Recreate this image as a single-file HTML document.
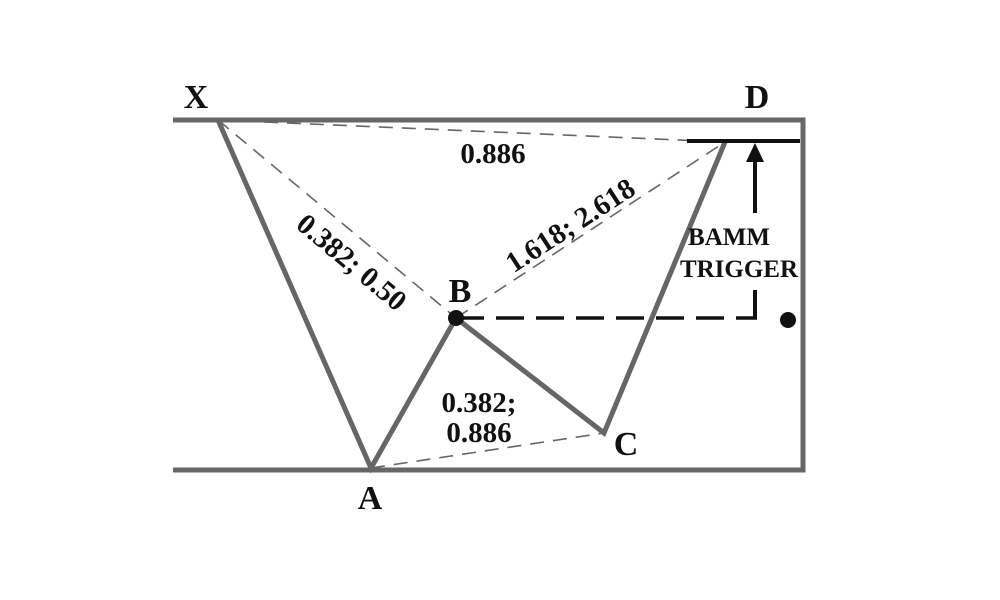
<!DOCTYPE html>
<html><head><meta charset="utf-8"><style>html,body{margin:0;padding:0;background:#fff}svg{display:block}</style></head>
<body>
<svg width="1000" height="600" viewBox="0 0 1000 600" xmlns="http://www.w3.org/2000/svg" font-family="Liberation Serif, serif" font-weight="bold">
<g stroke="#666" stroke-width="5" fill="none">
<polyline points="173,120 803,120 803,470 173,470"/>
<polyline points="218,120 371,468 456,318 604,433 725,142"/>
</g>
<g stroke="#666" stroke-width="1.6" fill="none" stroke-dasharray="14,9">
<line x1="218" y1="120" x2="725" y2="142"/>
<line x1="218" y1="120" x2="456" y2="318"/>
<line x1="456" y1="318" x2="725" y2="142"/>
<line x1="371" y1="468" x2="604" y2="433"/>
</g>
<line x1="687" y1="141" x2="800" y2="141" stroke="#111" stroke-width="4"/>
<line x1="755" y1="160" x2="755" y2="213" stroke="#111" stroke-width="4"/>
<polygon points="755,143 746,162 764,162" fill="#111"/>
<line x1="755" y1="290" x2="755" y2="318" stroke="#111" stroke-width="4"/>
<line x1="456" y1="318" x2="757" y2="318" stroke="#111" stroke-width="3.5" stroke-dasharray="28,12"/>
<circle cx="456" cy="318" r="8" fill="#111"/>
<circle cx="788" cy="320" r="8" fill="#111"/>
<g fill="#111" font-size="34">
<text x="196" y="108" text-anchor="middle">X</text>
<text x="757" y="108" text-anchor="middle">D</text>
<text x="460" y="302" text-anchor="middle">B</text>
<text x="626" y="455" text-anchor="middle">C</text>
<text x="370" y="509" text-anchor="middle">A</text>
</g>
<g fill="#111" font-size="29">
<text x="493" y="163" text-anchor="middle">0.886</text>
<text x="479" y="412" text-anchor="middle">0.382;</text>
<text x="479" y="442" text-anchor="middle">0.886</text>
<text x="352" y="272" text-anchor="middle" transform="rotate(40 352 262)">0.382; 0.50</text>
<text x="570" y="235" text-anchor="middle" transform="rotate(-33 570 225)">1.618; 2.618</text>
</g>
<g fill="#111" font-size="25">
<text x="729" y="245" text-anchor="middle">BAMM</text>
<text x="739" y="277" text-anchor="middle">TRIGGER</text>
</g>
</svg>
</body></html>
